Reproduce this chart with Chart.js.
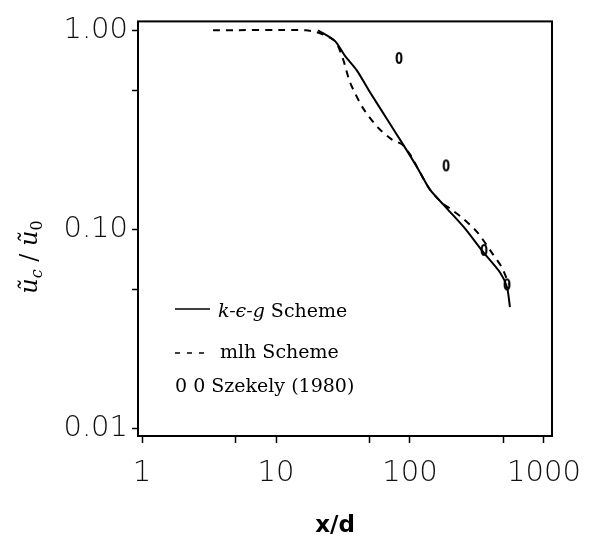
<!DOCTYPE html>
<html>
<head>
<meta charset="utf-8">
<script src="https://cdn.jsdelivr.net/npm/chart.js@4/dist/chart.umd.min.js"></script>
<style>
  html, body { margin: 0; padding: 0; background: #fff; }
  #c { display: block; }
</style>
</head>
<body>
<canvas id="c" width="596" height="537"></canvas>
<script>
// Centreline velocity decay along the jet, u_c / u_0 against x/d
const kegX = [20.6, 27.6, 32.7, 40.2, 50.3, 67.3, 88.7, 113, 141, 189, 257, 351, 470, 530, 557];
const kegY = [1.0, 0.882, 0.743, 0.627, 0.488, 0.358, 0.267, 0.205, 0.158, 0.127, 0.101, 0.0769, 0.0606, 0.0511, 0.0406];

const mlhX = [3.39, 16.7, 21.3, 27.6, 31.6, 35.7, 44.6, 57.7, 73.4, 87.2, 100, 113, 141, 176, 199, 249, 322, 409, 486, 548];
const mlhY = [1.0, 1.0, 0.966, 0.882, 0.718, 0.547, 0.406, 0.324, 0.282, 0.267, 0.238, 0.205, 0.158, 0.1345, 0.127, 0.1133, 0.0955, 0.076, 0.0641, 0.0528];

const szekelyX = [82.8, 186, 357, 530];
const szekelyY = [0.718, 0.207, 0.0778, 0.0522];

const xTickValues = [1, 10, 100, 1000];
const xTickLabels = ['1', '10', '100', '1000'];
const xMinorTicks = [5, 50, 500];
const yTickValues = [0.01, 0.1, 1];
const yTickLabels = ['0.01', '0.10', '1.00'];
const yMinorTicks = [0.05, 0.5];

const toPoints = (xs, ys) => xs.map((x, i) => ({ x: x, y: ys[i] }));

// "0" glyph used as the marker for the measured points
function zeroMarker() {
  const c = document.createElement('canvas');
  c.width = 12; c.height = 16;
  const g = c.getContext('2d');
  g.fillStyle = '#000';
  g.textAlign = 'center';
  g.textBaseline = 'middle';
  g.font = 'bold 16px "DejaVu Sans"';
  g.save();
  g.translate(6, 8.5);
  g.scale(0.72, 1);
  g.fillText('0', 0, 0);
  g.restore();
  return c;
}

function buildTicks(major, minor) {
  return function (scale) {
    const all = major.map(v => ({ value: v, major: true }))
      .concat(minor.map(v => ({ value: v, major: false })));
    all.sort((a, b) => a.value - b.value);
    scale.ticks = all;
  };
}

function labelFor(values, labels) {
  return function (value) {
    const i = values.findIndex(v => Math.abs(v - value) / v < 1e-6);
    return i >= 0 ? labels[i] : '';
  };
}

// Frame, in-plot key and axis titles
const decorations = {
  id: 'decorations',
  afterDraw(chart) {
    const ctx = chart.ctx;
    const a = chart.chartArea;
    ctx.save();
    ctx.strokeStyle = '#000';
    ctx.lineWidth = 2;
    ctx.strokeRect(a.left, a.top, a.right - a.left, a.bottom - a.top);

    // key
    ctx.fillStyle = '#000';
    ctx.textBaseline = 'alphabetic';
    ctx.textAlign = 'left';
    ctx.lineWidth = 1.5;
    ctx.beginPath();
    ctx.moveTo(175, 309); ctx.lineTo(210, 309);
    ctx.stroke();
    ctx.font = 'italic 19px "DejaVu Serif"';
    ctx.fillText('k-ϵ-g', 218, 317);
    let w = ctx.measureText('k-ϵ-g').width;
    ctx.font = '19px "DejaVu Serif"';
    ctx.fillText(' Scheme', 218 + w, 317);

    ctx.beginPath();
    [175, 187, 199].forEach(x0 => { ctx.moveTo(x0, 353); ctx.lineTo(x0 + 5, 353); });
    ctx.stroke();
    ctx.fillText('mlh Scheme', 220, 358);
    ctx.fillText('0 0 Szekely (1980)', 175, 392);

    // x-axis title
    ctx.font = 'bold 23px "DejaVu Sans"';
    ctx.textAlign = 'center';
    ctx.textBaseline = 'middle';
    ctx.fillText('x/d', 335, 526);

    // y-axis title, rotated: ũ_c / ũ_0
    const big = 'italic 24px "DejaVu Serif"';
    const subI = 'italic 16px "DejaVu Serif"';
    const sub = '16px "DejaVu Serif"';
    const reg = '24px "DejaVu Serif"';
    const parts = [
      { t: 'ũ', f: big, dy: 0 },
      { t: 'c', f: subI, dy: 5 },
      { t: ' / ', f: reg, dy: 0 },
      { t: 'ũ', f: big, dy: 0 },
      { t: '0', f: sub, dy: 5 }
    ];
    let total = 0;
    parts.forEach(p => { ctx.font = p.f; p.w = ctx.measureText(p.t).width; total += p.w; });
    ctx.translate(37, 257 + total / 2);
    ctx.rotate(-Math.PI / 2);
    ctx.textAlign = 'left';
    ctx.textBaseline = 'alphabetic';
    let x = 0;
    parts.forEach(p => { ctx.font = p.f; ctx.fillText(p.t, x, p.dy); x += p.w; });
    ctx.restore();
  }
};

const tickFont = { family: '"DejaVu Sans"', size: 29, weight: '300' };

new Chart(document.getElementById('c'), {
  type: 'scatter',
  data: {
    datasets: [
      {
        label: 'k-ϵ-g Scheme',
        data: toPoints(kegX, kegY),
        showLine: true,
        borderColor: '#000',
        borderWidth: 2,
        pointRadius: 0,
        tension: 0.25,
        order: 2
      },
      {
        label: 'mlh Scheme',
        data: toPoints(mlhX, mlhY),
        showLine: true,
        borderColor: '#000',
        borderWidth: 2,
        borderDash: [7, 6],
        pointRadius: 0,
        tension: 0.25,
        order: 3
      },
      {
        label: 'Szekely (1980)',
        data: toPoints(szekelyX, szekelyY),
        showLine: false,
        pointStyle: zeroMarker(),
        pointRadius: 6,
        order: 1
      }
    ]
  },
  options: {
    responsive: false,
    devicePixelRatio: 1,
    animation: false,
    events: [],
    layout: { padding: { top: 15, right: 44, left: 0, bottom: 0 } },
    plugins: { legend: { display: false }, tooltip: { enabled: false } },
    scales: {
      x: {
        type: 'logarithmic',
        position: 'bottom',
        min: 0.933,
        max: 1148,
        afterBuildTicks: buildTicks(xTickValues, xMinorTicks),
        afterFit(scale) { scale.height = 101; },
        ticks: {
          autoSkip: false,
          maxRotation: 0,
          color: '#111',
          font: tickFont,
          padding: 13,
          callback: labelFor(xTickValues, xTickLabels)
        },
        grid: {
          drawOnChartArea: false,
          drawTicks: true,
          tickLength: 7,
          tickColor: '#000',
          tickWidth: 1.5
        },
        border: { display: false }
      },
      y: {
        type: 'logarithmic',
        position: 'left',
        min: 0.00913,
        max: 1.108,
        afterBuildTicks: buildTicks(yTickValues, yMinorTicks),
        afterFit(scale) { scale.width = 138; },
        ticks: {
          autoSkip: false,
          color: '#111',
          font: tickFont,
          padding: 4,
          callback: labelFor(yTickValues, yTickLabels)
        },
        grid: {
          drawOnChartArea: false,
          drawTicks: true,
          tickLength: 6,
          tickColor: '#000',
          tickWidth: 1.5
        },
        border: { display: false }
      }
    }
  },
  plugins: [decorations]
});
</script>
</body>
</html>
